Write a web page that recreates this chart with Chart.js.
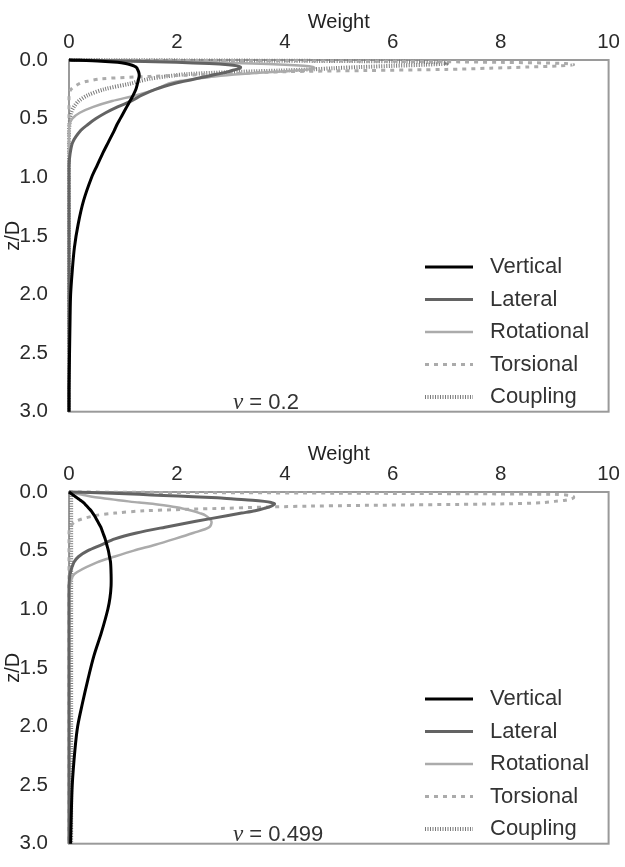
<!DOCTYPE html>
<html>
<head>
<meta charset="utf-8">
<script src="https://cdn.jsdelivr.net/npm/chart.js@4.4.1/dist/chart.umd.min.js"></script>
<style>
html, body { margin: 0; padding: 0; background: #fff; overflow: hidden; width: 625px; height: 867px; }
.panel { position: absolute; left: 0; width: 625px; height: 445px; }
</style>
</head>
<body>
<div class="panel" style="top:0"><canvas id="chartTop" width="625" height="445"></canvas></div>
<div class="panel" style="top:432px"><canvas id="chartBottom" width="625" height="445"></canvas></div>
<script>
// depth z/D (shared by every curve)
const zD = [0, 0.01, 0.02, 0.03, 0.04, 0.05, 0.06, 0.07, 0.08, 0.09,
  0.10, 0.12, 0.14, 0.16, 0.18, 0.20, 0.25, 0.30, 0.35, 0.40,
  0.45, 0.50, 0.55, 0.60, 0.70, 0.80, 0.90, 1.00, 1.20, 1.40,
  1.60, 1.80, 2.00, 2.20, 2.50, 2.80, 3.00];

const seriesNames = ['Vertical', 'Lateral', 'Rotational', 'Torsional', 'Coupling'];
const xTicks = [0, 2, 4, 6, 8, 10];
const yTicks = [0, 0.5, 1, 1.5, 2, 2.5, 3];

// nu = 0.2
const vertical02 = [0, 0.6, 0.9, 1.05, 1.14, 1.2, 1.24, 1.26, 1.27, 1.28,
  1.29, 1.3, 1.3, 1.29, 1.28, 1.27, 1.24, 1.19, 1.13, 1.07,
  1.01, 0.95, 0.89, 0.84, 0.73, 0.62, 0.52, 0.42, 0.27, 0.17,
  0.1, 0.06, 0.03, 0.02, 0.01, 0, 0];
const lateral02 = [0, 1.2, 2.0, 2.6, 2.95, 3.12, 3.18, 3.17, 3.1, 3.02,
  2.95, 2.75, 2.55, 2.35, 2.15, 1.95, 1.6, 1.35, 1.15, 0.9,
  0.68, 0.5, 0.35, 0.22, 0.07, 0.02, 0, 0, 0, 0,
  0, 0, 0, 0, 0, 0, 0];
const rotational02 = [0, 1.5, 2.6, 3.4, 4.0, 4.35, 4.52, 4.55, 4.45, 4.2,
  3.85, 3.2, 2.7, 2.35, 2.05, 1.85, 1.6, 1.25, 0.8, 0.45,
  0.2, 0.06, 0.01, 0, 0, 0, 0, 0, 0, 0,
  0, 0, 0, 0, 0, 0, 0];
const torsional02 = [0, 5.5, 8.0, 9.2, 9.35, 9.1, 8.5, 7.8, 7.0, 5.5,
  4.0, 2.8, 1.5, 0.6, 0.35, 0.2, 0.04, 0, 0, 0,
  0, 0, 0, 0, 0, 0, 0, 0, 0, 0,
  0, 0, 0, 0, 0, 0, 0];
const coupling02 = [0, 5.5, 6.9, 7.0, 6.6, 6.0, 5.4, 4.9, 4.5, 3.9,
  3.2, 2.2, 1.8, 1.5, 1.3, 1.15, 0.65, 0.35, 0.18, 0.09,
  0.04, 0.02, 0.01, 0, 0, 0, 0, 0, 0, 0,
  0, 0, 0, 0, 0, 0, 0];

// nu = 0.499
const vertical0499 = [0, 0.03, 0.06, 0.09, 0.12, 0.15, 0.18, 0.21, 0.24, 0.27,
  0.29, 0.33, 0.37, 0.41, 0.44, 0.47, 0.53, 0.59, 0.63, 0.67,
  0.7, 0.73, 0.75, 0.77, 0.78, 0.78, 0.76, 0.72, 0.6, 0.46,
  0.35, 0.25, 0.16, 0.11, 0.06, 0.04, 0.03];
const lateral0499 = [0, 0.8, 1.3, 1.75, 2.3, 2.75, 3.05, 3.4, 3.62, 3.75,
  3.81, 3.75, 3.62, 3.45, 3.2, 2.95, 2.35, 1.78, 1.25, 0.85,
  0.6, 0.35, 0.18, 0.09, 0.02, 0, 0, 0, 0, 0,
  0, 0, 0, 0, 0, 0, 0];
const rotational0499 = [0, 0.1, 0.2, 0.32, 0.43, 0.58, 0.75, 0.92, 1.1, 1.3,
  1.55, 1.85, 2.1, 2.28, 2.42, 2.53, 2.64, 2.6, 2.3, 1.96,
  1.6, 1.2, 0.85, 0.52, 0.1, 0.01, 0, 0, 0, 0,
  0, 0, 0, 0, 0, 0, 0];
const torsional0499 = [0, 5.0, 9.0, 9.3, 9.35, 9.35, 9.3, 9.2, 9.0, 8.8,
  8.2, 4.5, 2.8, 1.4, 0.85, 0.5, 0.12, 0.02, 0, 0,
  0, 0, 0, 0, 0, 0, 0, 0, 0, 0,
  0, 0, 0, 0, 0, 0, 0];
const coupling0499 = [0, 0.04, 0.04, 0.04, 0.04, 0.04, 0.04, 0.04, 0.04, 0.04,
  0.04, 0.04, 0.04, 0.04, 0.04, 0.04, 0.04, 0.04, 0.04, 0.04,
  0.04, 0.04, 0.04, 0.04, 0.04, 0.04, 0.04, 0.04, 0.04, 0.04,
  0.04, 0.04, 0.04, 0.04, 0.04, 0.04, 0.04];

const FONT = "'Liberation Sans', Arial, sans-serif";

const styles = [
  { borderColor: '#000000', borderWidth: 3 },
  { borderColor: '#636363', borderWidth: 3 },
  { borderColor: '#ababab', borderWidth: 2.5 },
  { borderColor: '#ababab', borderWidth: 3, borderDash: [4, 5] },
  { borderColor: '#7a7a7a', borderWidth: 4, borderDash: [1, 1.5] }
];

function toPoints(w) {
  return w.map((v, i) => ({ x: v, y: zD[i] }));
}

// frame, legend and nu label
const decoPlugin = {
  id: 'deco',
  beforeDatasetsDraw(chart) {
    const ca = chart.chartArea, ctx = chart.ctx;
    ctx.save();
    ctx.strokeStyle = '#9a9a9a';
    ctx.lineWidth = 2;
    ctx.strokeRect(ca.left, ca.top, ca.right - ca.left, ca.bottom - ca.top);
    ctx.restore();
  },
  afterDatasetsDraw(chart, args, opts) {
    const ctx = chart.ctx, ca = chart.chartArea;
    ctx.save();
    chart.data.datasets.forEach((ds, i) => {
      const y = ca.top + 207 + i * 32.5;
      ctx.strokeStyle = ds.borderColor;
      ctx.lineWidth = ds.borderWidth;
      ctx.setLineDash(ds.borderDash || []);
      ctx.beginPath();
      ctx.moveTo(425, y);
      ctx.lineTo(473, y);
      ctx.stroke();
      ctx.setLineDash([]);
      ctx.fillStyle = '#333';
      ctx.font = '22px ' + FONT;
      ctx.textBaseline = 'middle';
      ctx.textAlign = 'left';
      ctx.fillText(ds.label, 490, y);
    });
    const ny = ca.top + 343;
    ctx.font = "italic 23px 'Liberation Serif', serif";
    ctx.fillStyle = '#333';
    ctx.fillText('\u03bd', 233, ny);
    const nw = ctx.measureText('\u03bd').width;
    ctx.font = '22px ' + FONT;
    ctx.fillText(' = ' + opts.nu, 233 + nw, ny);
    ctx.restore();
  }
};

function makeChart(id, nu, data) {
  return new Chart(document.getElementById(id), {
    type: 'scatter',
    data: {
      datasets: seriesNames.map((name, i) => Object.assign({
        label: name,
        data: toPoints(data[i]),
        showLine: true,
        pointRadius: 0,
        tension: 0.3,
        clip: 6
      }, styles[i]))
    },
    options: {
      responsive: false,
      animation: false,
      events: [],
      layout: { padding: { right: 12, bottom: 13, top: 0, left: 0 } },
      plugins: {
        legend: { display: false },
        tooltip: { enabled: false },
        deco: { nu: nu }
      },
      scales: {
        x: {
          type: 'linear',
          position: 'top',
          min: 0, max: 10,
          afterBuildTicks: (s) => { s.ticks = xTicks.map(v => ({ value: v })); },
          afterFit: (s) => { s.height = 60; },
          grid: { display: false, drawTicks: false },
          border: { display: false },
          ticks: { color: '#2a2a2a', font: { size: 20.5, family: FONT }, padding: 5 },
          title: { display: true, text: 'Weight', color: '#222', font: { size: 20, family: FONT }, padding: { top: 10, bottom: 0 } }
        },
        y: {
          type: 'linear',
          reverse: true,
          min: 0, max: 3,
          afterBuildTicks: (s) => { s.ticks = yTicks.map(v => ({ value: v })); },
          afterFit: (s) => { s.width = 69; },
          grid: { display: false, drawTicks: false },
          border: { display: false },
          ticks: { color: '#2a2a2a', font: { size: 20.5, family: FONT }, padding: 21, callback: (v) => Number(v).toFixed(1) },
          title: { display: true, text: 'z/D', color: '#222', font: { size: 20, family: FONT }, padding: { top: 1, bottom: 0 } }
        }
      }
    },
    plugins: [decoPlugin]
  });
}

makeChart('chartTop', '0.2', [vertical02, lateral02, rotational02, torsional02, coupling02]);
makeChart('chartBottom', '0.499', [vertical0499, lateral0499, rotational0499, torsional0499, coupling0499]);
</script>
</body>
</html>
